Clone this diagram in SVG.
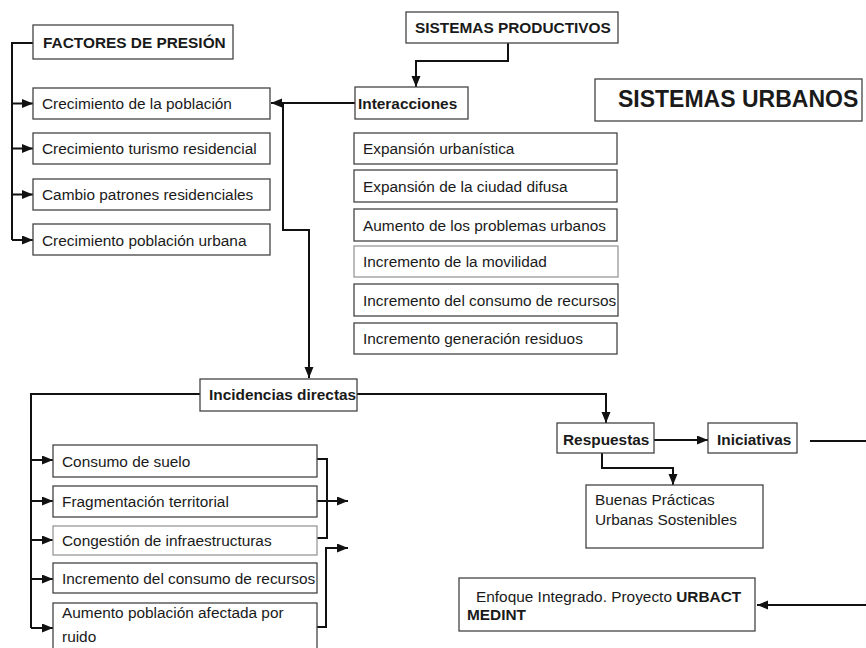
<svg xmlns="http://www.w3.org/2000/svg" width="866" height="648" viewBox="0 0 866 648">
<defs>
<marker id="ah" markerUnits="userSpaceOnUse" markerWidth="12" markerHeight="10" refX="11" refY="4.5" orient="auto">
<path d="M0,0 L11,4.5 L0,9 z" fill="#111"/>
</marker>
<style>
.box{fill:#fff;stroke:#444;stroke-width:1.3}
.lt{stroke:#999}
.t{font-family:"Liberation Sans",Arial,sans-serif;font-size:15.4px;fill:#1a1a1a}
.b{font-weight:bold}
.c{fill:none;stroke:#111;stroke-width:2}
.ca{fill:none;stroke:#111;stroke-width:2;marker-end:url(#ah)}
</style>
</defs>
<rect width="866" height="648" fill="#fff"/>

<g id="connectors">
<path class="ca" d="M508,43 V61 H416 V87"/>
<path class="ca" d="M355,103 H271"/>
<path class="ca" d="M283,103 V230 H309 V378"/>
<path class="c" d="M33,43 H12 V240"/>
<path class="ca" d="M12,103.5 H33"/>
<path class="ca" d="M12,148.5 H33"/>
<path class="ca" d="M12,194.5 H33"/>
<path class="ca" d="M12,240 H33"/>
<path class="c" d="M200,394 H31 V628"/>
<path class="ca" d="M31,460 H53"/>
<path class="ca" d="M31,501 H53"/>
<path class="ca" d="M31,540 H53"/>
<path class="ca" d="M31,579 H53"/>
<path class="ca" d="M31,628 H53"/>
<path class="c" d="M317,459 H327 V538 H317"/>
<path class="ca" d="M317,501 H348"/>
<path class="ca" d="M317,627 H326 V548 H348"/>
<path class="ca" d="M357,394 H606 V423"/>
<path class="ca" d="M654,440 H708"/>
<path class="ca" d="M602,453 V468 H673 V485"/>
<path class="ca" d="M810,441 H880 V605 H757"/>
</g>

<g id="sistemas-productivos">
<rect class="box" x="406" y="12" width="212" height="31"/>
<text class="t b" x="415" y="33">SISTEMAS PRODUCTIVOS</text>
</g>
<g id="sistemas-urbanos">
<rect class="box" x="595" y="79" width="267" height="42"/>
<text class="t b" x="618" y="107" style="font-size:23px">SISTEMAS URBANOS</text>
</g>
<g id="factores">
<rect class="box" x="33" y="25" width="200" height="34"/>
<text class="t b" x="43" y="48">FACTORES DE PRESIÓN</text>
</g>
<g id="f1">
<rect class="box" x="33" y="88" width="237" height="31"/>
<text class="t" x="42" y="109">Crecimiento de la población</text>
</g>
<g id="f2">
<rect class="box" x="33" y="133" width="237" height="31"/>
<text class="t" x="42" y="154">Crecimiento turismo residencial</text>
</g>
<g id="f3">
<rect class="box" x="33" y="179" width="237" height="31"/>
<text class="t" x="42" y="200">Cambio patrones residenciales</text>
</g>
<g id="f4">
<rect class="box" x="33" y="224" width="237" height="31"/>
<text class="t" x="42" y="245.5">Crecimiento población urbana</text>
</g>
<g id="interacciones">
<rect class="box" x="355" y="87" width="113" height="32"/>
<text class="t b" x="358" y="109">Interacciones</text>
</g>
<g id="i1">
<rect class="box" x="354" y="133" width="263" height="31"/>
<text class="t" x="363" y="154">Expansión urbanística</text>
</g>
<g id="i2">
<rect class="box" x="354" y="170" width="263" height="32"/>
<text class="t" x="363" y="191.5">Expansión de la ciudad difusa</text>
</g>
<g id="i3">
<rect class="box" x="354" y="209" width="263" height="32"/>
<text class="t" x="363" y="230.5">Aumento de los problemas urbanos</text>
</g>
<g id="i4">
<rect class="box lt" x="354" y="246" width="264" height="31"/>
<text class="t" x="363" y="267">Incremento de la movilidad</text>
</g>
<g id="i5">
<rect class="box" x="354" y="284" width="264" height="32"/>
<text class="t" x="363" y="305.5">Incremento del consumo de recursos</text>
</g>
<g id="i6">
<rect class="box" x="354" y="323" width="263" height="31"/>
<text class="t" x="363" y="344">Incremento generación residuos</text>
</g>
<g id="incidencias">
<rect class="box" x="200" y="379" width="157" height="32"/>
<text class="t b" x="209" y="400">Incidencias directas</text>
</g>
<g id="d1">
<rect class="box" x="53" y="445" width="264" height="32"/>
<text class="t" x="62" y="466.5">Consumo de suelo</text>
</g>
<g id="d2">
<rect class="box" x="53" y="486" width="264" height="31"/>
<text class="t" x="62" y="507">Fragmentación territorial</text>
</g>
<g id="d3">
<rect class="box lt" x="53" y="526" width="264" height="29"/>
<text class="t" x="62" y="546">Congestión de infraestructuras</text>
</g>
<g id="d4">
<rect class="box" x="53" y="563" width="264" height="30"/>
<text class="t" x="62" y="583.5">Incremento del consumo de recursos</text>
</g>
<g id="d5">
<rect class="box" x="53" y="603" width="264" height="50"/>
<text class="t" x="62" y="618">Aumento población afectada por</text>
<text class="t" x="62" y="642">ruido</text>
</g>
<g id="respuestas">
<rect class="box" x="557" y="423" width="97" height="30"/>
<text class="t b" x="563" y="445">Respuestas</text>
</g>
<g id="iniciativas">
<rect class="box" x="708" y="423" width="89" height="30"/>
<text class="t b" x="717" y="445">Iniciativas</text>
</g>
<g id="buenas">
<rect class="box" x="586" y="485" width="177" height="63"/>
<text class="t" x="595" y="505">Buenas Prácticas</text>
<text class="t" x="595" y="525">Urbanas Sostenibles</text>
</g>
<g id="enfoque">
<rect class="box" x="459" y="578" width="296" height="53"/>
<text class="t" x="476" y="602">Enfoque Integrado. Proyecto <tspan class="b">URBACT</tspan></text>
<text class="t b" x="467" y="620">MEDINT</text>
</g>
</svg>
